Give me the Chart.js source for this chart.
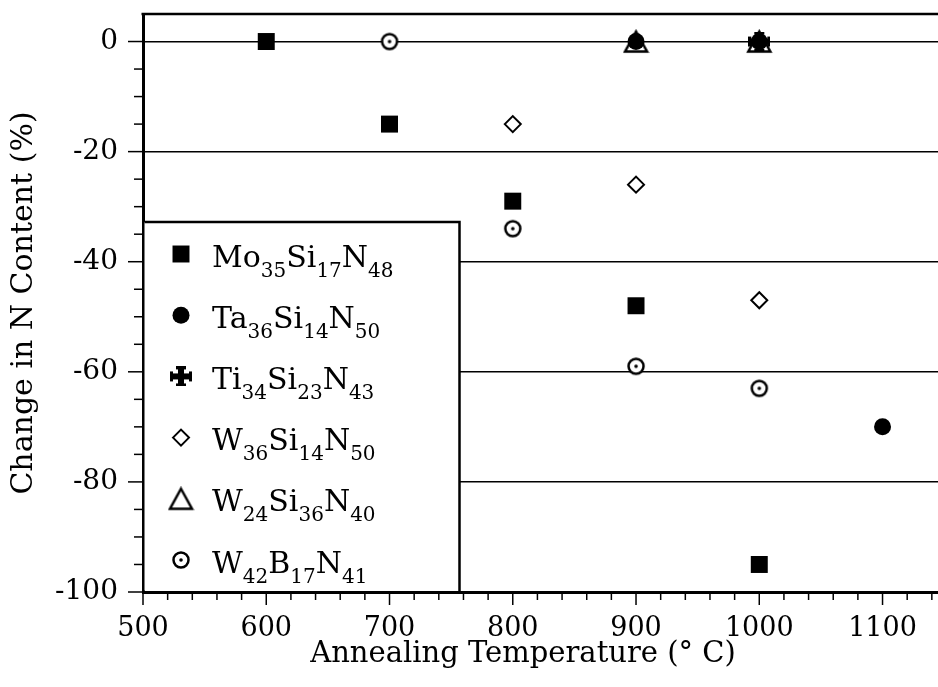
<!DOCTYPE html>
<html>
<head>
<meta charset="utf-8">
<script src="https://cdn.jsdelivr.net/npm/chart.js@4/dist/chart.umd.min.js"></script>
<style>
  html, body { margin: 0; padding: 0; background: #fff; overflow: hidden; }
  #wrap { width: 938px; height: 687px; }
</style>
</head>
<body>
<div id="wrap"><canvas id="grafico"></canvas></div>
<script>
// dados
const seriesNames = ['Mo35Si17N48', 'Ta36Si14N50', 'Ti34Si23N43', 'W36Si14N50', 'W24Si36N40', 'W42B17N41'];

const moTemps = [600, 700, 800, 900, 1000];
const moValues = [0, -15, -29, -48, -95];

const taTemps = [900, 1000, 1100];
const taValues = [0, 0, -70];

const tiTemps = [1000];
const tiValues = [0];

const w36Temps = [800, 900, 1000];
const w36Values = [-15, -26, -47];

const w24Temps = [900, 1000];
const w24Values = [0, 0];

const w42Temps = [700, 800, 900, 1000];
const w42Values = [0, -34, -59, -63];

const xTickLabels = [500, 600, 700, 800, 900, 1000, 1100];
const yTickLabels = [0, -20, -40, -60, -80, -100];

const xTitulo = 'Annealing Temperature (° C)';
const yTitulo = 'Change in N Content (%)';

const FONTE = '"DejaVu Serif", "Liberation Serif", serif';

function pontos(xs, ys) {
    return xs.map((x, i) => ({ x: x, y: ys[i] }));
}

// marcador circulo com ponto no meio
function marcadorCirculoPonto() {
    const c = document.createElement('canvas');
    c.width = 22; c.height = 22;
    const g = c.getContext('2d');
    g.fillStyle = '#fff';
    g.strokeStyle = '#000';
    g.lineWidth = 2.5;
    g.beginPath(); g.arc(11, 11, 7.5, 0, 2 * Math.PI); g.fill(); g.stroke();
    g.fillStyle = '#000';
    g.beginPath(); g.arc(11, 11, 1.8, 0, 2 * Math.PI); g.fill();
    return c;
}

// marcador cruz cheia
function marcadorCruz() {
    const c = document.createElement('canvas');
    c.width = 22; c.height = 20;
    const g = c.getContext('2d');
    g.fillStyle = '#000';
    g.fillRect(8, 1, 6, 18);
    g.fillRect(1, 7, 20, 6);
    g.fillRect(6, 0, 10, 3);
    g.fillRect(6, 17, 10, 3);
    g.fillRect(0, 5, 3, 10);
    g.fillRect(19, 5, 3, 10);
    return c;
}

// triangulo vazado, centrado na caixa
function marcadorTriangulo() {
    const c = document.createElement('canvas');
    c.width = 27; c.height = 25;
    const g = c.getContext('2d');
    g.strokeStyle = '#000';
    g.lineWidth = 2.5;
    g.beginPath();
    g.moveTo(13.5, 2.5);
    g.lineTo(24.5, 22.5);
    g.lineTo(2.5, 22.5);
    g.closePath();
    g.stroke();
    return c;
}

const estilos = [
    { pointStyle: 'rect', radius: 12, bg: '#000', borderWidth: 0 },
    { pointStyle: 'circle', radius: 8.5, bg: '#000', borderWidth: 0 },
    { pointStyle: marcadorCruz(), radius: 10, bg: '#000', borderWidth: 0 },
    { pointStyle: 'rectRot', radius: 8, bg: 'rgba(0,0,0,0)', borderWidth: 2 },
    { pointStyle: marcadorTriangulo(), radius: 12, bg: 'rgba(0,0,0,0)', borderWidth: 0 },
    { pointStyle: marcadorCirculoPonto(), radius: 9, bg: '#fff', borderWidth: 0 }
];

const series = [
    pontos(moTemps, moValues),
    pontos(taTemps, taValues),
    pontos(tiTemps, tiValues),
    pontos(w36Temps, w36Values),
    pontos(w24Temps, w24Values),
    pontos(w42Temps, w42Values)
];

function desenharFormula(ctx, nome, x, y) {
    const partes = nome.match(/[A-Za-z]+|\d+/g);
    ctx.textBaseline = 'alphabetic';
    ctx.textAlign = 'left';
    partes.forEach(p => {
        if (/^\d+$/.test(p)) {
            ctx.font = '20px ' + FONTE;
            ctx.fillText(p, x, y + 10);
        } else {
            ctx.font = '30px ' + FONTE;
            ctx.fillText(p, x, y);
        }
        x += ctx.measureText(p).width;
    });
}

// moldura, marcas dos eixos, titulo x e legenda dentro do grafico
const pluginMoldura = {
    id: 'moldura',
    afterDraw(chart) {
        const ctx = chart.ctx;
        const area = chart.chartArea;
        const xs = chart.scales.x;
        const ys = chart.scales.y;
        ctx.save();
        ctx.strokeStyle = '#000';

        ctx.lineWidth = 2.5;
        ctx.beginPath();
        ctx.moveTo(area.left - 1.5, area.top);
        ctx.lineTo(area.right, area.top);
        ctx.stroke();

        ctx.lineWidth = 1.5;
        xs.ticks.forEach(t => {
            if (t.value % 20 !== 0) return;
            const px = xs.getPixelForValue(t.value);
            const len = t.value % 100 === 0 ? 13 : 8;
            ctx.beginPath();
            ctx.moveTo(px, area.bottom);
            ctx.lineTo(px, area.bottom + len);
            ctx.stroke();
        });
        ys.ticks.forEach(t => {
            if (t.value % 5 !== 0 || t.value > 0) return;
            const py = ys.getPixelForValue(t.value);
            const len = t.value % 20 === 0 ? 15 : 9;
            ctx.beginPath();
            ctx.moveTo(area.left - len, py);
            ctx.lineTo(area.left, py);
            ctx.stroke();
        });

        // titulo do eixo x (no original fica um pouco a esquerda do centro)
        ctx.fillStyle = '#000';
        ctx.font = '29px ' + FONTE;
        ctx.textAlign = 'center';
        ctx.textBaseline = 'alphabetic';
        ctx.fillText(xTitulo, area.left + 380, area.bottom + 70);

        // caixa da legenda
        const bx = area.left + 1.5;
        const by = area.top + 208;
        const bw = 315;
        const bh = area.bottom - 1.5 - by;
        ctx.fillStyle = '#fff';
        ctx.fillRect(bx, by, bw, bh);
        ctx.lineWidth = 2.5;
        ctx.beginPath();
        ctx.moveTo(bx, by);
        ctx.lineTo(bx + bw, by);
        ctx.lineTo(bx + bw, area.bottom);
        ctx.stroke();

        chart.data.datasets.forEach((ds, i) => {
            const cy = by + 32 + i * 61.2;
            const est = estilos[i];
            ctx.fillStyle = est.bg;
            ctx.strokeStyle = '#000';
            ctx.lineWidth = est.borderWidth;
            Chart.helpers.drawPoint(ctx, {
                pointStyle: est.pointStyle,
                radius: est.radius,
                rotation: 0,
                borderWidth: est.borderWidth
            }, area.left + 38, cy);
            ctx.fillStyle = '#000';
            desenharFormula(ctx, seriesNames[i], area.left + 69, cy + 12.5);
        });
        ctx.restore();
    }
};

const ctx = document.getElementById('grafico').getContext('2d');

new Chart(ctx, {
    type: 'scatter',
    data: {
        datasets: series.map((dados, i) => ({
            label: seriesNames[i],
            data: dados,
            pointStyle: estilos[i].pointStyle,
            pointRadius: estilos[i].radius,
            pointHoverRadius: estilos[i].radius,
            pointBackgroundColor: estilos[i].bg,
            pointBorderColor: '#000',
            pointBorderWidth: estilos[i].borderWidth,
            showLine: false
        }))
    },
    options: {
        responsive: true,
        maintainAspectRatio: false,
        animation: false,
        events: [],
        layout: { autoPadding: false, padding: { top: 14, right: 0, left: 0, bottom: 0 } },
        plugins: {
            legend: { display: false },
            tooltip: { enabled: false }
        },
        scales: {
            x: {
                type: 'linear',
                min: 500,
                max: 1145,
                afterFit: s => {
                    s.height = 95;
                    s.paddingLeft = 0;
                    s.paddingRight = 0;
                },
                grid: { drawOnChartArea: false, drawTicks: false },
                border: { display: true, color: '#000', width: 3 },
                ticks: {
                    stepSize: 20,
                    includeBounds: false,
                    autoSkip: false,
                    maxRotation: 0,
                    padding: 21,
                    color: '#000',
                    font: { family: FONTE, size: 27 },
                    callback: v => xTickLabels.includes(v) ? String(v) : ''
                },
                title: { display: false, text: xTitulo }
            },
            y: {
                min: -100,
                max: 5,
                afterFit: s => {
                    s.width = 143;
                    s.paddingTop = 0;
                    s.paddingBottom = 0;
                },
                grid: {
                    drawTicks: false,
                    lineWidth: 1.5,
                    color: c => (c.tick && c.tick.value % 20 === 0 && c.tick.value > -100 && c.tick.value <= 0) ? '#000' : 'rgba(0,0,0,0)'
                },
                border: { display: true, color: '#000', width: 3 },
                ticks: {
                    stepSize: 5,
                    includeBounds: false,
                    autoSkip: false,
                    padding: 25,
                    color: '#000',
                    font: { family: FONTE, size: 28 },
                    callback: v => yTickLabels.includes(v) ? String(v) : ''
                },
                title: {
                    display: true,
                    text: yTitulo,
                    color: '#000',
                    font: { family: FONTE, size: 30 },
                    padding: { top: 6, bottom: 0 }
                }
            }
        }
    },
    plugins: [pluginMoldura]
});
</script>
</body>
</html>
